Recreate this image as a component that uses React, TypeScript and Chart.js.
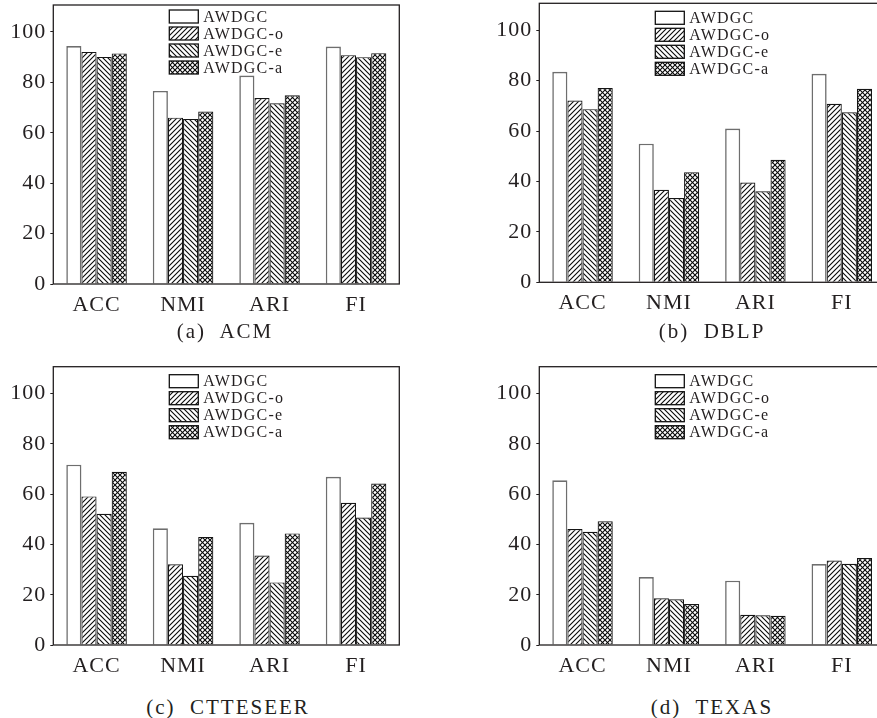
import React, { useEffect, useRef } from "react";
import { Chart, registerables } from "chart.js";

Chart.register(...registerables);

// ---------- data ----------
const categories = ["ACC", "NMI", "ARI", "FI"];
const seriesNames = ["AWDGC", "AWDGC-o", "AWDGC-e", "AWDGC-a"];
const yTickValues = [0, 20, 40, 60, 80, 100];

// (a) ACM
const acmAWDGC = [94.4, 76.6, 82.7, 94.2];
const acmO = [92.1, 66.0, 73.8, 90.8];
const acmE = [90.1, 65.5, 71.7, 90.0];
const acmA = [91.5, 68.4, 74.9, 91.6];

// (b) DBLP
const dblpAWDGC = [83.5, 55.0, 61.0, 82.7];
const dblpO = [72.1, 36.7, 39.6, 70.8];
const dblpE = [68.7, 33.4, 36.1, 67.5];
const dblpA = [77.1, 43.7, 48.6, 76.8];

// (c) CTTESEER
const citeAWDGC = [71.7, 46.4, 48.6, 66.9];
const citeO = [59.1, 32.1, 35.6, 56.6];
const citeE = [52.2, 27.5, 24.9, 50.7];
const citeA = [68.9, 43.0, 44.4, 64.2];

// (d) TEXAS
const texasAWDGC = [65.5, 27.0, 25.6, 32.2];
const texasO = [46.1, 18.6, 12.0, 33.6];
const texasE = [45.0, 18.2, 11.8, 32.3];
const texasA = [49.2, 16.3, 11.6, 34.6];

// ---------- layout / style ----------
const FONT = "'Liberation Serif', 'Times New Roman', serif";
const INK = "#231f20";

type Panel = {
  caption: string;
  series: number[][];
  left: number;
  top: number;
  w: number;
  h: number;
  area: { left: number; top: number; right: number; bottom: number };
  legendTop: number;
  capX: number;
  capY: number;
};

const panels: Panel[] = [
  {
    caption: "(a)  ACM",
    series: [acmAWDGC, acmO, acmE, acmA],
    left: 0, top: 0, w: 440, h: 340,
    area: { left: 53.3, top: 5, right: 399.3, bottom: 284 },
    legendTop: 5, capX: 225, capY: 331,
  },
  {
    caption: "(b)  DBLP",
    series: [dblpAWDGC, dblpO, dblpE, dblpA],
    left: 440, top: 0, w: 460, h: 340,
    area: { left: 99.3, top: 3.3, right: 445, bottom: 282.3 },
    legendTop: 8, capX: 712, capY: 331,
  },
  {
    caption: "(c)  CTTESEER",
    series: [citeAWDGC, citeO, citeE, citeA],
    left: 0, top: 340, w: 440, h: 340,
    area: { left: 53.3, top: 26.7, right: 399.3, bottom: 305 },
    legendTop: 8, capX: 228, capY: 707,
  },
  {
    caption: "(d)  TEXAS",
    series: [texasAWDGC, texasO, texasE, texasA],
    left: 440, top: 340, w: 460, h: 340,
    area: { left: 99.3, top: 26.7, right: 445, bottom: 305 },
    legendTop: 8, capX: 712, capY: 707,
  },
];

const patternKinds = ["none", "fwd", "back", "cross"];

function makePattern(ctx: CanvasRenderingContext2D, kind: string): CanvasPattern | string {
  if (kind === "none") return "#ffffff";
  const s = 5;
  const c = document.createElement("canvas");
  c.width = s;
  c.height = s;
  const g = c.getContext("2d")!;
  g.fillStyle = "#ffffff";
  g.fillRect(0, 0, s, s);
  g.strokeStyle = "#0a0a0a";
  g.lineWidth = 1.1;
  const fwd = () => {
    g.beginPath();
    g.moveTo(-1, s + 1);
    g.lineTo(s + 1, -1);
    g.moveTo(-1, 1);
    g.lineTo(1, -1);
    g.moveTo(s - 1, s + 1);
    g.lineTo(s + 1, s - 1);
    g.stroke();
  };
  const back = () => {
    g.beginPath();
    g.moveTo(-1, -1);
    g.lineTo(s + 1, s + 1);
    g.moveTo(s - 1, -1);
    g.lineTo(s + 1, 1);
    g.moveTo(-1, s - 1);
    g.lineTo(1, s + 1);
    g.stroke();
  };
  if (kind === "fwd") fwd();
  if (kind === "back") back();
  if (kind === "cross") {
    fwd();
    back();
  }
  return ctx.createPattern(c, "repeat")!;
}

const framePlugin = {
  id: "frameLegend",
  beforeDraw(chart: any) {
    (chart.ctx as any).letterSpacing = "1px";
  },
  afterDatasetsDraw(chart: any, _args: any, opts: any) {
    const ctx: CanvasRenderingContext2D = chart.ctx;
    const a = chart.chartArea;
    ctx.save();
    ctx.strokeStyle = INK;
    ctx.lineWidth = 1.3;
    ctx.strokeRect(a.left, a.top, a.right - a.left, a.bottom - a.top);

    // legend inside the plot area
    const bx = a.left + 116;
    let by = a.top + (opts.legendTop || 6);
    const bw = 29;
    const bh = 13;
    const rowGap = 17;
    (ctx as any).letterSpacing = "1.2px";
    ctx.font = `16px ${FONT}`;
    ctx.textBaseline = "middle";
    ctx.textAlign = "left";
    chart.data.datasets.forEach((ds: any) => {
      ctx.fillStyle = ds.backgroundColor;
      ctx.fillRect(bx, by, bw, bh);
      ctx.strokeStyle = "#111111";
      ctx.lineWidth = 1.3;
      ctx.strokeRect(bx, by, bw, bh);
      ctx.fillStyle = INK;
      ctx.fillText(ds.label, bx + 34, by + bh / 2 + 1);
      by += rowGap;
    });
    ctx.restore();
  },
};

function PanelChart({ p }: { p: Panel }) {
  const ref = useRef<HTMLCanvasElement>(null);
  useEffect(() => {
    const canvas = ref.current!;
    const ctx = canvas.getContext("2d")!;
    const datasets = seriesNames.map((name, i) => ({
      label: name,
      data: p.series[i],
      backgroundColor: makePattern(ctx, patternKinds[i]) as any,
      borderColor: i === 0 ? "#6e6e6e" : "#151515",
      borderWidth: i === 0 ? 1.6 : 1.2,
      barPercentage: 1,
      categoryPercentage: 0.7,
    }));
    const chart = new Chart(canvas, {
      type: "bar",
      data: { labels: categories, datasets },
      options: {
        responsive: false,
        maintainAspectRatio: false,
        animation: false,
        layout: {
          padding: { left: 0, top: p.area.top, right: p.w - p.area.right, bottom: 0 },
        },
        plugins: {
          legend: { display: false },
          tooltip: { enabled: false },
          frameLegend: { legendTop: p.legendTop },
        } as any,
        scales: {
          x: {
            grid: { display: false },
            border: { display: false },
            ticks: {
              color: INK,
              padding: 0,
              font: { family: FONT, size: 22 },
            },
            afterFit: (s: any) => {
              s.height = p.h - p.area.bottom;
              s.paddingLeft = 0;
              s.paddingRight = 0;
            },
          },
          y: {
            min: 0,
            max: 110.7,
            grid: {
              display: true,
              drawOnChartArea: false,
              tickLength: 3,
              color: INK,
            },
            border: { display: false },
            ticks: {
              stepSize: 20,
              color: INK,
              padding: 4,
              font: { family: FONT, size: 22 },
            },
            afterBuildTicks: (s: any) => {
              s.ticks = yTickValues.map((v) => ({ value: v }));
            },
            afterFit: (s: any) => {
              s.width = p.area.left;
              s.paddingTop = 0;
              s.paddingBottom = 0;
            },
          },
        },
      },
      plugins: [framePlugin],
    });
    return () => chart.destroy();
  }, [p]);
  return (
    <canvas
      ref={ref}
      width={p.w}
      height={p.h}
      style={{ position: "absolute", left: p.left, top: p.top, width: p.w, height: p.h }}
    />
  );
}

export default function App() {
  return (
    <div
      style={{
        position: "absolute",
        left: 0,
        top: 0,
        width: 877,
        height: 718,
        overflow: "hidden",
        background: "#ffffff",
      }}
    >
      {panels.map((p, i) => (
        <PanelChart key={i} p={p} />
      ))}
      {panels.map((p, i) => (
        <div
          key={"c" + i}
          style={{
            position: "absolute",
            left: p.capX,
            top: p.capY,
            transform: "translate(-50%, -50%)",
            fontFamily: FONT,
            fontSize: 21,
            letterSpacing: "2px",
            color: INK,
            whiteSpace: "pre",
            lineHeight: 1,
          }}
        >
          {p.caption}
        </div>
      ))}
    </div>
  );
}
